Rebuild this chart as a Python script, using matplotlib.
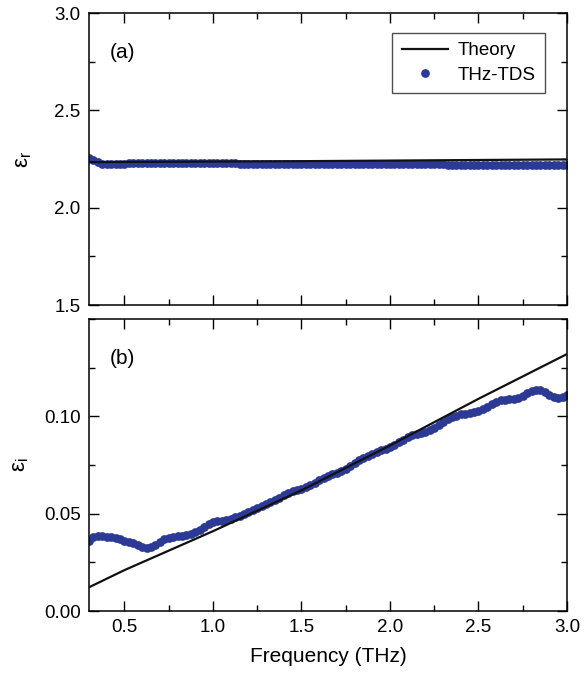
import numpy as np
import matplotlib
matplotlib.use("Agg")
import matplotlib.pyplot as plt
from matplotlib.ticker import MultipleLocator, FormatStrFormatter

plt.rcParams['font.family'] = ['Liberation Sans', 'DejaVu Sans']
plt.rcParams['mathtext.fontset'] = 'custom'
plt.rcParams['mathtext.rm'] = 'Liberation Sans'

# measured THz-TDS permittivity, sampled every 0.025 THz from 0.3 to 3.0
eps_r_meas = [
	2.256, 2.246, 2.234, 2.227, 2.224, 2.224, 2.225, 2.226,
	2.227, 2.228, 2.228, 2.228, 2.228, 2.228, 2.228, 2.228,
	2.228, 2.228, 2.228, 2.228, 2.228, 2.228, 2.228, 2.228,
	2.228, 2.228, 2.228, 2.228, 2.228, 2.228, 2.228, 2.228,
	2.228, 2.228, 2.227, 2.227, 2.227, 2.227, 2.227, 2.227,
	2.227, 2.227, 2.227, 2.227, 2.227, 2.227, 2.227, 2.227,
	2.227, 2.227, 2.226, 2.226, 2.226, 2.226, 2.226, 2.226,
	2.226, 2.226, 2.226, 2.225, 2.225, 2.225, 2.225, 2.225,
	2.225, 2.225, 2.225, 2.224, 2.224, 2.224, 2.224, 2.224,
	2.224, 2.223, 2.223, 2.223, 2.223, 2.222, 2.222, 2.222,
	2.222, 2.221, 2.221, 2.221, 2.220, 2.220, 2.220, 2.220,
	2.220, 2.219, 2.219, 2.219, 2.219, 2.219, 2.219, 2.219,
	2.219, 2.219, 2.218, 2.218, 2.218, 2.218, 2.218, 2.218,
	2.218, 2.218, 2.218, 2.218,
	2.218,
]
eps_i_meas = [
	0.0360, 0.0378, 0.0386, 0.0386, 0.0382, 0.0378, 0.0374, 0.0368,
	0.0362, 0.0356, 0.0348, 0.0338, 0.0328, 0.0323, 0.0327, 0.0340,
	0.0355, 0.0368, 0.0377, 0.0382, 0.0384, 0.0386, 0.0388, 0.0395,
	0.0405, 0.0418, 0.0432, 0.0445, 0.0455, 0.0460, 0.0463, 0.0468,
	0.0474, 0.0482, 0.0490, 0.0500, 0.0510, 0.0520, 0.0530, 0.0540,
	0.0550, 0.0560, 0.0570, 0.0582, 0.0594, 0.0605, 0.0614, 0.0622,
	0.0628, 0.0636, 0.0648, 0.0660, 0.0672, 0.0684, 0.0694, 0.0702,
	0.0710, 0.0720, 0.0732, 0.0746, 0.0760, 0.0774, 0.0786, 0.0798,
	0.0808, 0.0818, 0.0826, 0.0834, 0.0842, 0.0852, 0.0866, 0.0880,
	0.0892, 0.0902, 0.0910, 0.0916, 0.0922, 0.0930, 0.0942, 0.0956,
	0.0970, 0.0984, 0.0996, 0.1004, 0.1010, 0.1014, 0.1016, 0.1020,
	0.1026, 0.1036, 0.1048, 0.1062, 0.1074, 0.1082, 0.1086, 0.1088,
	0.1090, 0.1094, 0.1104, 0.1118, 0.1130, 0.1136, 0.1134, 0.1124,
	0.1110, 0.1100, 0.1096, 0.1100,
	0.1108,
]
freq_meas = np.linspace(0.3, 3.0, len(eps_i_meas))

# theory curves
freq_th = [0.3, 0.5, 1.0, 1.5, 2.0, 2.5, 3.0]
eps_r_th = [2.234, 2.235, 2.237, 2.239, 2.242, 2.245, 2.248]
eps_i_th = [0.0122, 0.021, 0.041, 0.062, 0.085, 0.109, 0.132]

dotcol = '#2c3a96'

fig = plt.figure(figsize=(5.88, 6.75), dpi=100)
axA = fig.add_axes([0.1514, 0.5481, 0.8129, 0.4326])
axB = fig.add_axes([0.1514, 0.0948, 0.8129, 0.4326])

for ax, meas, th in ((axA, eps_r_meas, eps_r_th), (axB, eps_i_meas, eps_i_th)):
	ax.plot(freq_meas, meas, 'o', color=dotcol, markersize=6.3, markeredgewidth=0, label='THz-TDS', zorder=2)
	ax.plot(freq_th, th, '-', color='#111111', linewidth=1.6, label='Theory', zorder=3)
	ax.set_xlim(0.3, 3.0)
	ax.xaxis.set_major_locator(MultipleLocator(0.5))
	ax.xaxis.set_minor_locator(MultipleLocator(0.25))
	ax.tick_params(which='both', direction='in', top=True, right=True, labelsize=13.5, width=1.0, pad=6)
	ax.tick_params(which='major', length=7)
	ax.tick_params(which='minor', length=4)
	for s in ax.spines.values():
		s.set_linewidth(1.1)

axA.set_ylim(1.5, 3.0)
axA.yaxis.set_major_locator(MultipleLocator(0.5))
axA.yaxis.set_minor_locator(MultipleLocator(0.25))
axA.yaxis.set_major_formatter(FormatStrFormatter('%.1f'))
axA.tick_params(labelbottom=False)
axA.set_ylabel('ε$_\\mathregular{r}$', fontsize=16, labelpad=15)
axA.text(0.044, 0.866, '(a)', transform=axA.transAxes, fontsize=15, va='center')

# top of the lower panel carries no 0.15 label
axB.set_ylim(0.0, 0.15)
axB.set_yticks([0.0, 0.05, 0.10])
axB.yaxis.set_minor_locator(MultipleLocator(0.025))
axB.yaxis.set_major_formatter(FormatStrFormatter('%.2f'))
axB.set_ylabel('ε$_\\mathregular{i}$', fontsize=16, labelpad=9)
axB.set_xlabel('Frequency (THz)', fontsize=15, labelpad=8)
axB.text(0.044, 0.866, '(b)', transform=axB.transAxes, fontsize=15, va='center')

# legend: line first, then dots
h, l = axA.get_legend_handles_labels()
leg = axA.legend([h[1], h[0]], [l[1], l[0]], loc='upper right', bbox_to_anchor=(0.953, 0.932),
	fontsize=13.5, frameon=True, fancybox=False, edgecolor='#222222', handlelength=2.45,
	borderpad=0.5, labelspacing=0.4, handletextpad=0.5, borderaxespad=0)
leg.get_frame().set_linewidth(1.0)

fig.savefig('out.png', dpi=100)
